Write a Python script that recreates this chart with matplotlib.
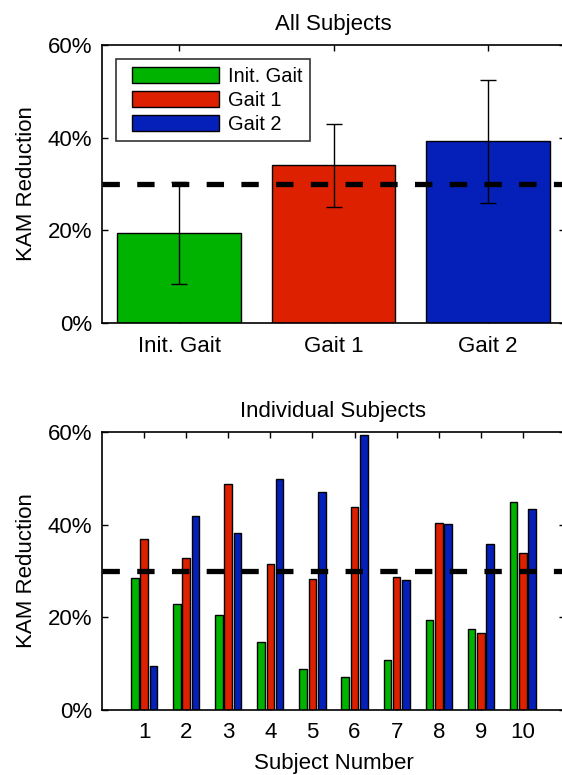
import matplotlib
matplotlib.use("Agg")
import matplotlib.pyplot as plt
from matplotlib.patches import Rectangle
from matplotlib.legend_handler import HandlerPatch
import numpy as np

plt.rcParams['font.family'] = ['Liberation Sans', 'DejaVu Sans']
plt.rcParams['lines.scale_dashes'] = False

# ---- data ----
groups = ["Init. Gait", "Gait 1", "Gait 2"]
mean_vals = [19.4, 34.0, 39.2]
err_vals = [11.0, 9.0, 13.3]
subjects = [1, 2, 3, 4, 5, 6, 7, 8, 9, 10]
init_gait = [28.5, 22.8, 20.5, 14.6, 8.8, 7.1, 10.8, 19.5, 17.5, 44.9]
gait1 = [36.8, 32.9, 48.8, 31.5, 28.2, 43.9, 28.7, 40.3, 16.6, 33.9]
gait2 = [9.6, 41.9, 38.3, 49.9, 47.0, 59.3, 28.1, 40.1, 35.9, 43.3]
target = 30
yticks = [0, 20, 40, 60]
ytick_labels = ["0%", "20%", "40%", "60%"]

colors = ["#00b300", "#dd2000", "#0520b8"]
fs = 16
fs_leg = 14.4
W, H = 562, 775
fig = plt.figure(figsize=(W / 100, H / 100), dpi=100)

def style(ax):
    ax.set_ylim(0, 60)
    ax.set_yticks(yticks)
    ax.set_yticklabels(ytick_labels, fontsize=fs)
    ax.tick_params(direction='in', length=4, width=1, top=True, right=True,
                   labelsize=fs)
    ax.tick_params(axis='x', pad=9)
    ax.tick_params(axis='y', pad=7)
    for s in ax.spines.values():
        s.set_linewidth(1.2)

# legend handle: rectangle shifted right inside a wider handle box
SHIFT = 6.5  # points
def make_rect(legend, orig_handle, xdescent, ydescent, width, height, fontsize):
    return Rectangle((-xdescent + SHIFT, -ydescent), width - SHIFT, height)

# ---- top axes ----
ax1 = fig.add_axes([102 / W, 1 - 323 / H, (565 - 102) / W, (323 - 45) / H])
x1 = np.arange(1, len(groups) + 1)
handles = []
for i in range(len(groups)):
    bc = ax1.bar(x1[i], mean_vals[i], width=0.8, color=colors[i],
                 edgecolor='black', linewidth=1, zorder=2)
    handles.append(bc.patches[0])
ax1.errorbar(x1, mean_vals, yerr=err_vals, fmt='none', ecolor='black',
             elinewidth=1, capsize=5.5, capthick=1, zorder=3)
ax1.axhline(target, color='black', lw=3.8, dashes=(12.5, 12.5), zorder=4)
ax1.set_xlim(0.5, 3.5)
ax1.set_xticks(x1)
ax1.set_xticklabels(groups)
style(ax1)
ax1.set_title("All Subjects", fontsize=fs, pad=11)
ax1.set_ylabel("KAM Reduction", fontsize=fs, labelpad=8)
hl = 4.35 + SHIFT / fs_leg
hp = HandlerPatch(patch_func=make_rect)
leg = ax1.legend(handles, groups, loc='upper left',
                 bbox_to_anchor=(13.5 / 463, 1 - 14 / 278),
                 fontsize=fs_leg, frameon=True, fancybox=False, edgecolor='black',
                 handlelength=hl, handleheight=0.88, handletextpad=0.45,
                 labelspacing=0.25, borderpad=0.38, borderaxespad=0,
                 handler_map={Rectangle: hp})
leg.get_frame().set_linewidth(1.2)

# ---- bottom axes ----
ax2 = fig.add_axes([102 / W, 1 - 710 / H, (565 - 102) / W, (710 - 432) / H])
xs = np.array(subjects)
off = 0.22
bw = 0.18
for vals, dx, c in zip([init_gait, gait1, gait2], [-off, 0, off], colors):
    ax2.bar(xs + dx, vals, width=bw, color=c, edgecolor='black',
            linewidth=1, zorder=2)
ax2.axhline(target, color='black', lw=3.8, dashes=(12.5, 12.5), zorder=4)
ax2.set_xlim(0, 11)
ax2.set_xticks(xs)
ax2.set_xticklabels([str(s) for s in subjects])
style(ax2)
ax2.set_title("Individual Subjects", fontsize=fs, pad=11)
ax2.set_ylabel("KAM Reduction", fontsize=fs, labelpad=8)
ax2.set_xlabel("Subject Number", fontsize=fs, labelpad=7)

fig.savefig("out.png", dpi=100)
